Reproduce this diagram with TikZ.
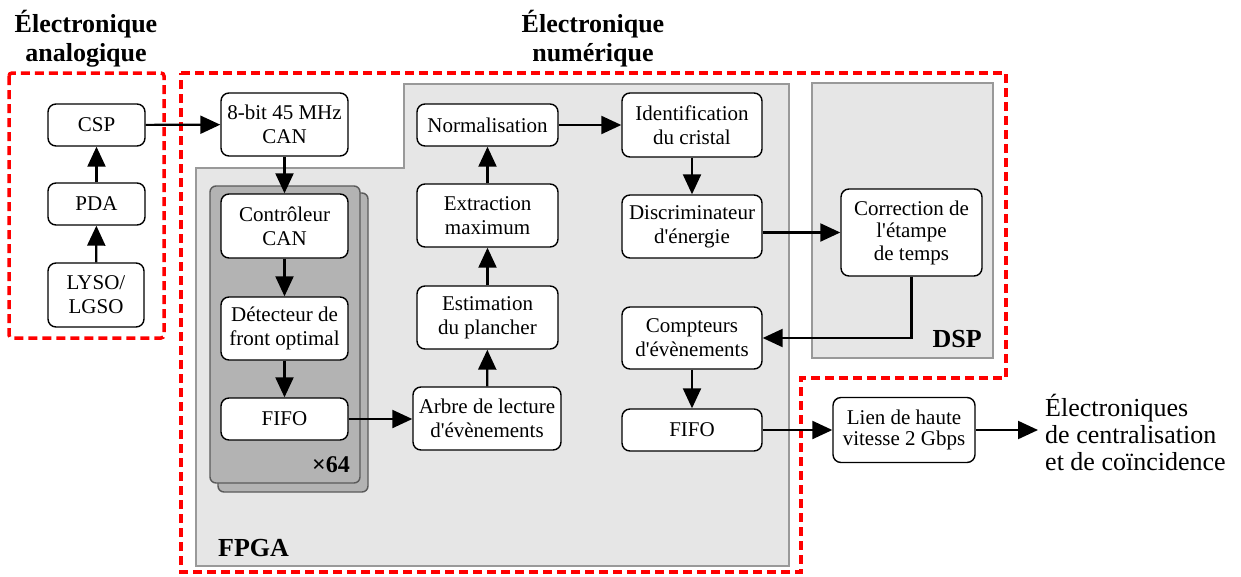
\documentclass[tikz,border=0pt]{standalone}
\usepackage{fontspec}
\setmainfont{Liberation Serif}[Ligatures=TeXOff]
\usetikzlibrary{arrows.meta}
\definecolor{zonegray}{HTML}{E6E6E6}
\definecolor{zoneedge}{HTML}{999999}
\definecolor{stackgray}{HTML}{B3B3B3}
\definecolor{stackedge}{HTML}{5A5A5A}
\tikzset{
  blk/.style={draw=black, line width=1.4pt, fill=white, rounded corners=8pt,
    inner sep=0pt, align=center, font=\fontsize{21}{24}\selectfont},
  zone/.style={draw=zoneedge, line width=1.6pt, fill=zonegray},
  card/.style={draw=stackedge, line width=1.4pt, fill=stackgray, rounded corners=6pt},
  redbox/.style={draw=red, line width=3.5pt, dash pattern=on 9pt off 5pt},
  flow/.style={line width=2.2pt, -{Triangle[length=20pt,width=18pt]}},
  heading/.style={font=\bfseries\fontsize{26}{29}\selectfont, align=center},
  tag/.style={font=\bfseries\fontsize{26}{29}\selectfont, inner sep=0pt}
}
\begin{document}
\begin{tikzpicture}[x=1pt,y=-1pt]
\useasboundingbox (0,0) rectangle (1241,576);

% grey zones: FPGA and DSP
\draw[zone] (196,168) -- (404,168) -- (404,84) -- (789,84) -- (789,566) -- (196,566) -- cycle;
\draw[zone] (812,83) rectangle (993,358);

% stacked channel cards (x64)
\draw[card] (218,193) rectangle (368,492);
\draw[card] (210,186) rectangle (360,483);

% red dashed frames
\draw[redbox, rounded corners=3pt] (9,73) rectangle (164,338);
\draw[redbox] (181,73) -- (1006,73) -- (1006,378) -- (801,378) -- (801,572) -- (181,572) -- cycle;

% headings and zone labels
\node[heading] (hana) at (86,39) {Électronique\\analogique};
\node[heading] (hnum) at (593,39) {Électronique\\numérique};
\node[tag, anchor=west] (fpga) at (218,548) {FPGA};
\node[tag, anchor=east] (dsp) at (982,339) {DSP};
\node[font=\bfseries\fontsize{24}{28}\selectfont, inner sep=0pt, anchor=east] (x64) at (350,465) {×64};

% analog chain
\node[blk, minimum width=97pt, minimum height=42pt] (csp) at (96.5,125) {CSP};
\node[blk, minimum width=97pt, minimum height=42pt] (pda) at (96.5,204) {PDA};
\node[blk, minimum width=96pt, minimum height=64pt] (lyso) at (96,295) {LYSO/\\LGSO};

% per-channel blocks
\node[blk, minimum width=127pt, minimum height=63pt] (can) at (284.5,124.5) {8-bit 45 MHz\\CAN};
\node[blk, minimum width=127pt, minimum height=64pt] (ctrl) at (284.5,226) {Contrôleur\\CAN};
\node[blk, minimum width=127pt, minimum height=63pt] (det) at (284.5,328.5) {Détecteur de\\front optimal};
\node[blk, minimum width=127pt, minimum height=42pt] (fifoa) at (284.5,419) {FIFO};

% event processing
\node[blk, minimum width=148pt, minimum height=63pt] (arbre) at (487,418.5) {Arbre de lecture\\d'évènements};
\node[blk, minimum width=141pt, minimum height=63pt] (est) at (487.5,317.5) {Estimation\\du plancher};
\node[blk, minimum width=141pt, minimum height=63pt] (ext) at (487.5,215.5) {Extraction\\maximum};
\node[blk, minimum width=141pt, minimum height=42pt] (norm) at (487.5,125) {Normalisation};
\node[blk, minimum width=140pt, minimum height=64pt] (ident) at (692,125) {Identification\\du cristal};
\node[blk, minimum width=140pt, minimum height=63pt] (disc) at (692,226.5) {Discriminateur\\d'énergie};
\node[blk, minimum width=140pt, minimum height=62pt] (cpt) at (692,338) {Compteurs\\d'évènements};
\node[blk, minimum width=140pt, minimum height=42pt] (fifob) at (692,430) {FIFO};

% DSP block
\node[blk, minimum width=141pt, minimum height=87pt, font=\fontsize{21}{22.5}\selectfont] (corr) at (911.5,232.5) {Correction de\\l'étampe\\de temps};

% output link
\node[blk, minimum width=142pt, minimum height=65pt, font=\fontsize{21}{21}\selectfont] (lien) at (904,430) {Lien de haute\\vitesse 2 Gbps};
\node[anchor=west, align=left, inner sep=0pt, font=\fontsize{26}{27}\selectfont] (out) at (1045,432) {Électroniques\\de centralisation\\et de coïncidence};

% connectors
\draw[flow] (lyso) -- (pda);
\draw[flow] (pda) -- (csp);
\draw[flow] (csp) -- (can);
\draw[flow] (can) -- (ctrl);
\draw[flow] (ctrl) -- (det);
\draw[flow] (det) -- (fifoa);
\draw[flow] (fifoa.east) -- (fifoa.east -| arbre.west);
\draw[flow] (arbre) -- (est);
\draw[flow] (est) -- (ext);
\draw[flow] (ext) -- (norm);
\draw[flow] (norm) -- (ident);
\draw[flow] (ident) -- (disc);
\draw[flow] (disc.east |- corr.west) -- (corr.west);
\draw[flow] (corr.south) |- (cpt.east);
\draw[flow] (cpt) -- (fifob);
\draw[flow] (fifob.east) -- (fifob.east -| lien.west);
\draw[flow] (lien.east) -- ([xshift=-7pt]out.west |- lien.east);
\end{tikzpicture}
\end{document}
